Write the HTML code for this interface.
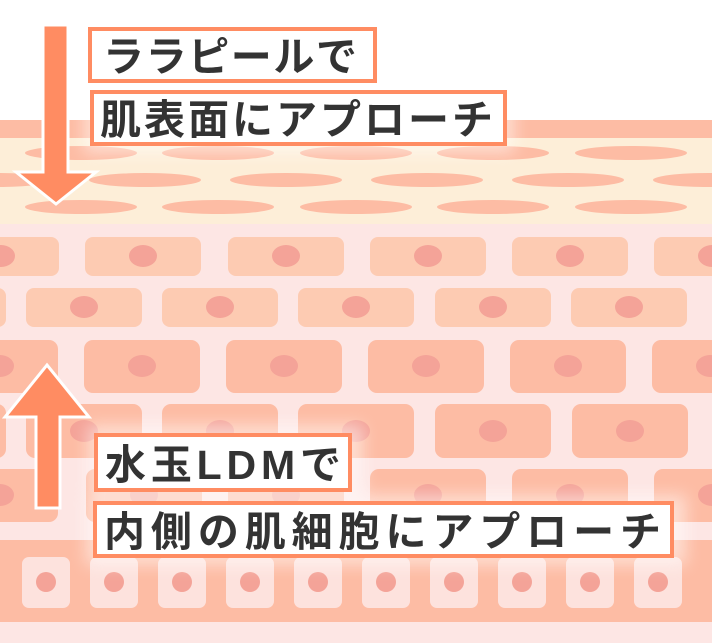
<!DOCTYPE html>
<html><head><meta charset="utf-8"><style>
html,body{margin:0;padding:0;background:#fff;}
svg{display:block;}
text{font-family:"Liberation Sans","Noto Sans CJK JP",sans-serif;font-weight:bold;fill:#333;font-size:41px;}
</style></head><body>
<svg width="712" height="643" viewBox="0 0 712 643" xmlns="http://www.w3.org/2000/svg">
<defs>
<filter id="bl" x="-30%" y="-30%" width="160%" height="160%"><feGaussianBlur stdDeviation="8"/></filter>
</defs>
<rect x="0" y="0" width="712" height="643" fill="#fff"/>
<rect x="0" y="120" width="712" height="18" fill="#fdbca4"/>
<rect x="0" y="138" width="712" height="86" fill="#fdeed8"/>
<rect x="0" y="224" width="712" height="419" fill="#fde6e4"/>
<g fill="#fdbca4">
<ellipse cx="81" cy="153" rx="56" ry="7"/><ellipse cx="218" cy="153" rx="56" ry="7"/><ellipse cx="356" cy="153" rx="56" ry="7"/><ellipse cx="493" cy="153" rx="56" ry="7"/><ellipse cx="631" cy="153" rx="56" ry="7"/>
<ellipse cx="-4" cy="180" rx="56" ry="7"/><ellipse cx="145" cy="180" rx="56" ry="7"/><ellipse cx="286" cy="180" rx="56" ry="7"/><ellipse cx="427" cy="180" rx="56" ry="7"/><ellipse cx="568" cy="180" rx="56" ry="7"/><ellipse cx="709" cy="180" rx="56" ry="7"/>
<ellipse cx="81" cy="207" rx="56" ry="7"/><ellipse cx="218" cy="207" rx="56" ry="7"/><ellipse cx="356" cy="207" rx="56" ry="7"/><ellipse cx="493" cy="207" rx="56" ry="7"/><ellipse cx="631" cy="207" rx="56" ry="7"/>
</g>
<g fill="#fdcbb2">
<rect x="-57" y="237" width="116" height="39" rx="8"/><rect x="85" y="237" width="116" height="39" rx="8"/><rect x="228" y="237" width="116" height="39" rx="8"/><rect x="370" y="237" width="116" height="39" rx="8"/><rect x="512" y="237" width="116" height="39" rx="8"/><rect x="654" y="237" width="116" height="39" rx="8"/>
<rect x="-110" y="288" width="116" height="39" rx="8"/><rect x="26" y="288" width="116" height="39" rx="8"/><rect x="162" y="288" width="116" height="39" rx="8"/><rect x="298" y="288" width="116" height="39" rx="8"/><rect x="435" y="288" width="116" height="39" rx="8"/><rect x="571" y="288" width="116" height="39" rx="8"/>
</g>
<g fill="#fdbca4">
<rect x="-58" y="340" width="116" height="53" rx="9"/><rect x="84" y="340" width="116" height="53" rx="9"/><rect x="226" y="340" width="116" height="53" rx="9"/><rect x="368" y="340" width="116" height="53" rx="9"/><rect x="510" y="340" width="116" height="53" rx="9"/><rect x="652" y="340" width="116" height="53" rx="9"/>
<rect x="-110" y="404" width="116" height="54" rx="9"/><rect x="26" y="404" width="116" height="54" rx="9"/><rect x="162" y="404" width="116" height="54" rx="9"/><rect x="298" y="404" width="116" height="54" rx="9"/><rect x="435" y="404" width="116" height="54" rx="9"/><rect x="572" y="404" width="116" height="54" rx="9"/>
<rect x="-58" y="469" width="116" height="53" rx="9"/><rect x="86" y="469" width="116" height="53" rx="9"/><rect x="228" y="469" width="116" height="53" rx="9"/><rect x="370" y="469" width="116" height="53" rx="9"/><rect x="512" y="469" width="116" height="53" rx="9"/><rect x="654" y="469" width="116" height="53" rx="9"/>
<rect x="0" y="540" width="712" height="82"/>
</g>
<g fill="#f4a398">
<ellipse cx="1" cy="256" rx="14" ry="11"/><ellipse cx="143" cy="256" rx="14" ry="11"/><ellipse cx="286" cy="256" rx="14" ry="11"/><ellipse cx="428" cy="256" rx="14" ry="11"/><ellipse cx="570" cy="256" rx="14" ry="11"/><ellipse cx="712" cy="256" rx="14" ry="11"/>
<ellipse cx="84" cy="307" rx="14" ry="11"/><ellipse cx="220" cy="307" rx="14" ry="11"/><ellipse cx="356" cy="307" rx="14" ry="11"/><ellipse cx="493" cy="307" rx="14" ry="11"/><ellipse cx="629" cy="307" rx="14" ry="11"/><ellipse cx="-52" cy="307" rx="14" ry="11"/>
<ellipse cx="0" cy="366" rx="14" ry="11"/><ellipse cx="142" cy="366" rx="14" ry="11"/><ellipse cx="284" cy="366" rx="14" ry="11"/><ellipse cx="426" cy="366" rx="14" ry="11"/><ellipse cx="568" cy="366" rx="14" ry="11"/><ellipse cx="710" cy="366" rx="14" ry="11"/>
<ellipse cx="-52" cy="431" rx="14" ry="11"/><ellipse cx="84" cy="431" rx="14" ry="11"/><ellipse cx="220" cy="431" rx="14" ry="11"/><ellipse cx="356" cy="431" rx="14" ry="11"/><ellipse cx="493" cy="431" rx="14" ry="11"/><ellipse cx="630" cy="431" rx="14" ry="11"/>
<ellipse cx="0" cy="495" rx="14" ry="11"/><ellipse cx="144" cy="495" rx="14" ry="11"/><ellipse cx="286" cy="495" rx="14" ry="11"/><ellipse cx="428" cy="495" rx="14" ry="11"/><ellipse cx="570" cy="495" rx="14" ry="11"/><ellipse cx="712" cy="495" rx="14" ry="11"/>
</g>
<rect x="0" y="622" width="712" height="21" fill="#fde6e4"/>
<g fill="#fde2dd">
<rect x="22" y="557" width="48" height="51" rx="7"/><rect x="90" y="557" width="48" height="51" rx="7"/><rect x="158" y="557" width="48" height="51" rx="7"/><rect x="226" y="557" width="48" height="51" rx="7"/><rect x="294" y="557" width="48" height="51" rx="7"/><rect x="362" y="557" width="48" height="51" rx="7"/><rect x="430" y="557" width="48" height="51" rx="7"/><rect x="498" y="557" width="48" height="51" rx="7"/><rect x="566" y="557" width="48" height="51" rx="7"/><rect x="634" y="557" width="48" height="51" rx="7"/>
</g>
<g fill="#f4a398">
<circle cx="46" cy="582" r="10"/><circle cx="114" cy="582" r="10"/><circle cx="182" cy="582" r="10"/><circle cx="250" cy="582" r="10"/><circle cx="318" cy="582" r="10"/><circle cx="386" cy="582" r="10"/><circle cx="454" cy="582" r="10"/><circle cx="522" cy="582" r="10"/><circle cx="590" cy="582" r="10"/><circle cx="658" cy="582" r="10"/>
</g>
<g fill="#fff" opacity="0.5" filter="url(#bl)">
<rect x="88" y="425" width="275" height="75"/>
<rect x="86" y="495" width="600" height="70"/>
<rect x="84" y="85" width="430" height="68"/>
</g>
<path d="M43,25 H68 V172 H96 L56,204 L16,172 H43 Z" fill="#ff8c62" stroke="#fff" stroke-width="3"/>
<path d="M47,365 L89,417 H60 V508 H36 V417 H5 Z" fill="#ff8c62" stroke="#fff" stroke-width="3"/>
<g fill="#fff" stroke="#ff8c62" stroke-width="4">
<rect x="90" y="29" width="285" height="52"/>
<rect x="92" y="92" width="413" height="52"/>
<rect x="96" y="435" width="254" height="55"/>
<rect x="95" y="503" width="577" height="53"/>
</g>
<text x="103" y="71" textLength="254" lengthAdjust="spacing">ララピールで</text>
<text x="100" y="134" textLength="393" lengthAdjust="spacing">肌表面にアプローチ</text>
<text x="105" y="479" textLength="236" lengthAdjust="spacing">水玉LDMで</text>
<text x="104" y="546" textLength="557" lengthAdjust="spacing">内側の肌細胞にアプローチ</text>
</svg>
</body></html>
